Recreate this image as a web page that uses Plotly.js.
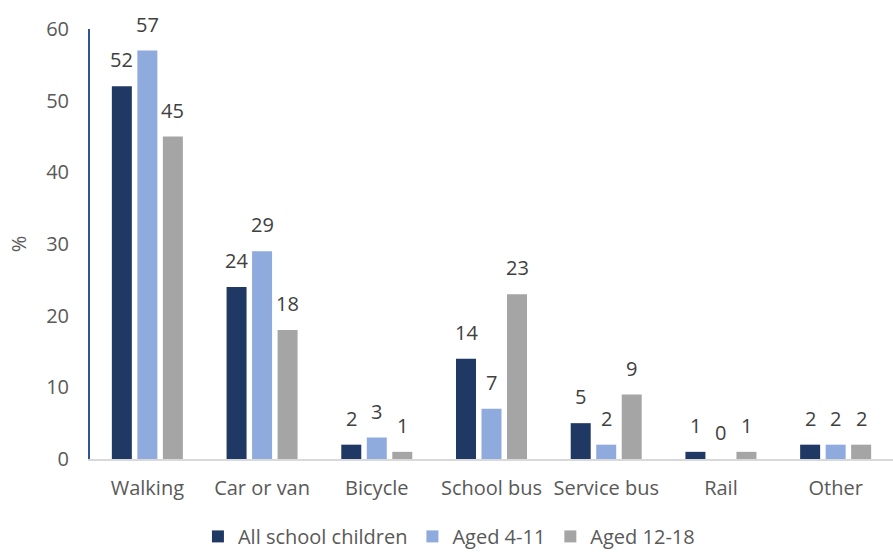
<!DOCTYPE html>
<html><head><meta charset="utf-8">
<script src="https://cdn.plot.ly/plotly-3.0.1.min.js"></script>
<style>body{margin:0;background:#fff}#c{width:893px;height:552px}</style>
</head><body><div id="c"></div>
<script>
const categories = ["Walking","Car or van","Bicycle","School bus","Service bus","Rail","Other"];
const allChildren = [52,24,2,14,5,1,2];
const aged4to11 = [57,29,3,7,2,0,2];
const aged12to18 = [45,18,1,23,9,1,2];
const seriesNames = ["All school children","Aged 4-11","Aged 12-18"];
const colors = ["#203864","#8FAADC","#A5A5A5"];
const yTicks = [0,10,20,30,40,50,60];

const font = "'Open Sans', sans-serif";
const series = [allChildren, aged4to11, aged12to18];
const traces = series.map((vals,i)=>({
  type:"bar", x:categories, y:vals, name:seriesNames[i],
  marker:{color:colors[i]}
}));
const slotPx = 25.5;
const annotations = [];
series.forEach((vals,i)=>vals.forEach((v,j)=>annotations.push({
  x:categories[j], y:v, xref:"x", yref:"y", text:String(v), showarrow:false,
  xanchor:"center", yanchor:"bottom", xshift:(i-1)*slotPx, yshift:11,
  font:{family:font,size:20,color:"#404040"}
})));
const layout = {
  width:893, height:552,
  margin:{l:90,r:0,t:29,b:93,autoexpand:false},
  paper_bgcolor:"#fff", plot_bgcolor:"#fff",
  barmode:"group", bargap:0.333, bargroupgap:0.216,
  showlegend:true, annotations,
  legend:{orientation:"h", x:0.447, xanchor:"center", y:-0.18, yanchor:"middle",
    font:{family:font,size:20,color:"#595959"}, traceorder:"normal", itemwidth:30},
  xaxis:{showline:true, linecolor:"#D9D9D9", linewidth:2, ticks:"", showgrid:false,
    tickfont:{family:font,size:20,color:"#595959"}, ticklabelstandoff:10, fixedrange:true},
  yaxis:{range:[0,60], tickvals:yTicks, ticktext:yTicks.map(String), showgrid:false,
    zeroline:false, showline:true, linecolor:"#2F5597", linewidth:2, ticks:"",
    tickfont:{family:font,size:20,color:"#595959"}, ticklabelstandoff:15,
    title:{text:"%", font:{family:font,size:20,color:"#595959"}, standoff:14}}
};
Plotly.newPlot("c", traces, layout, {displayModeBar:false, staticPlot:true});
</script></body></html>
